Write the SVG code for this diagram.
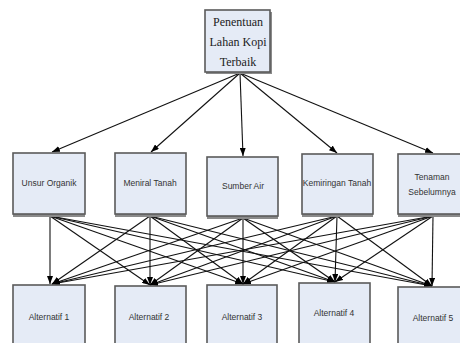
<svg xmlns="http://www.w3.org/2000/svg" width="460" height="343" viewBox="0 0 460 343">
<style>
.box{fill:#e5ebf6;stroke:#5a5a5a;stroke-width:1.6}
.sh{fill:#8a8a8a}
.t{font-family:"Liberation Sans",Arial,sans-serif;font-size:8.5px;fill:#333;text-anchor:middle}
.tt{font-family:"Liberation Serif","Times New Roman",serif;font-size:12px;fill:#222;text-anchor:middle}
.c line{stroke:#111;stroke-width:1.1;marker-end:url(#ah)}
</style>
<defs>
<marker id="ah" markerUnits="userSpaceOnUse" markerWidth="8" markerHeight="6" refX="8" refY="3" orient="auto">
<path d="M0,0 L8,3 L0,6 z" fill="#000"/>
</marker>
</defs>
<rect width="460" height="343" fill="#fff"/>
<g class="c" id="connectors">
<line x1="240" y1="73" x2="52" y2="152"/>
<line x1="240" y1="73" x2="151" y2="152"/>
<line x1="240" y1="73" x2="243" y2="156"/>
<line x1="240" y1="73" x2="337" y2="153"/>
<line x1="240" y1="73" x2="433" y2="153"/>
<line x1="50" y1="216" x2="50" y2="284"/>
<line x1="50" y1="216" x2="150" y2="285"/>
<line x1="50" y1="216" x2="243" y2="284"/>
<line x1="50" y1="216" x2="335" y2="282"/>
<line x1="50" y1="216" x2="432" y2="286"/>
<line x1="150" y1="216" x2="52" y2="284"/>
<line x1="150" y1="216" x2="150" y2="285"/>
<line x1="150" y1="216" x2="243" y2="284"/>
<line x1="150" y1="216" x2="335" y2="282"/>
<line x1="150" y1="216" x2="432" y2="286"/>
<line x1="243" y1="218" x2="52" y2="284"/>
<line x1="243" y1="218" x2="150" y2="285"/>
<line x1="243" y1="218" x2="243" y2="284"/>
<line x1="243" y1="218" x2="335" y2="282"/>
<line x1="243" y1="218" x2="432" y2="286"/>
<line x1="337" y1="216" x2="52" y2="284"/>
<line x1="337" y1="216" x2="150" y2="285"/>
<line x1="337" y1="216" x2="243" y2="284"/>
<line x1="337" y1="216" x2="335" y2="282"/>
<line x1="337" y1="216" x2="432" y2="286"/>
<line x1="433" y1="216" x2="52" y2="284"/>
<line x1="433" y1="216" x2="150" y2="285"/>
<line x1="433" y1="216" x2="243" y2="284"/>
<line x1="433" y1="216" x2="335" y2="282"/>
<line x1="433" y1="216" x2="432" y2="286"/>
</g>
<g id="top">
<rect class="sh" x="206" y="12" width="66" height="62"/>
<rect class="box" x="205" y="10" width="65" height="62"/>
<text class="tt" x="238" y="26">Penentuan</text>
<text class="tt" x="238" y="46">Lahan Kopi</text>
<text class="tt" x="238" y="66">Terbaik</text>
</g>
<g id="m1">
<rect class="sh" x="13" y="155" width="72" height="62"/>
<rect class="box" x="13" y="153" width="72" height="61"/>
<text class="t" x="49" y="186">Unsur Organik</text>
</g>
<g id="m2">
<rect class="sh" x="115" y="155" width="71" height="62"/>
<rect class="box" x="115" y="153" width="71" height="61"/>
<text class="t" x="150" y="186">Meniral Tanah</text>
</g>
<g id="m3">
<rect class="sh" x="207" y="159" width="71" height="60"/>
<rect class="box" x="207" y="157" width="71" height="59"/>
<text class="t" x="243" y="189">Sumber Air</text>
</g>
<g id="m4">
<rect class="sh" x="302" y="156" width="71" height="61"/>
<rect class="box" x="302" y="154" width="71" height="60"/>
<text class="t" x="337" y="186">Kemiringan Tanah</text>
</g>
<g id="m5">
<rect class="sh" x="398" y="156" width="70" height="61"/>
<rect class="box" x="398" y="154" width="70" height="60"/>
<text class="t" x="432" y="180">Tenaman</text>
<text class="t" x="432" y="195">Sebelumnya</text>
</g>
<g id="b1">
<rect class="box" x="13" y="285" width="72" height="70"/>
<text class="t" x="49" y="320">Alternatif 1</text>
</g>
<g id="b2">
<rect class="box" x="115" y="286" width="71" height="70"/>
<text class="t" x="149" y="320">Alternatif 2</text>
</g>
<g id="b3">
<rect class="box" x="207" y="285" width="70" height="70"/>
<text class="t" x="242" y="320">Alternatif 3</text>
</g>
<g id="b4">
<rect class="box" x="299" y="283" width="71" height="70"/>
<text class="t" x="334" y="316">Alternatif 4</text>
</g>
<g id="b5">
<rect class="box" x="398" y="287" width="70" height="70"/>
<text class="t" x="433" y="321">Alternatif 5</text>
</g>
</svg>
